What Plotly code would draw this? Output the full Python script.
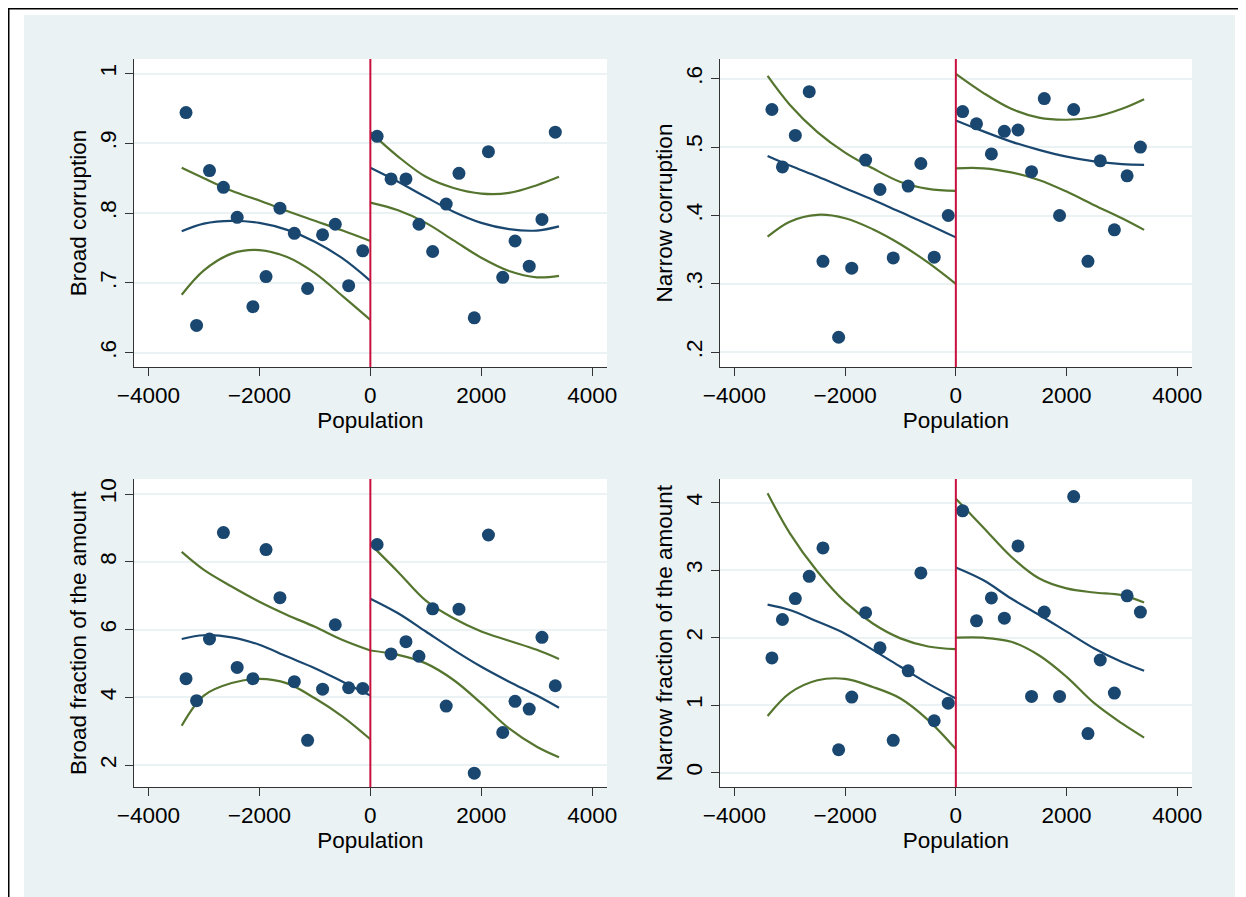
import plotly.graph_objects as go

# The page body adds an 8px margin, so the figure is drawn 8px smaller and shifted.
OFF = 8
W, H = 1246 - OFF, 897 - OFF

# ---------------- data ----------------
BIN_X_LEFT = [-3322, -3132, -2899, -2648, -2400, -2117, -1880, -1629, -1370, -1131, -861, -632, -391, -137]
BIN_X_RIGHT = [122, 373, 642, 876, 1123, 1367, 1597, 1873, 2128, 2386, 2608, 2863, 3093, 3333]
FIT_X_LEFT = [-3400, -3000, -2500, -2000, -1500, -1000, -500, 0]
FIT_X_RIGHT = [0, 500, 1000, 1500, 2000, 2500, 3000, 3400]
CUTOFF = 0

X_TICKS = [-4000, -2000, 0, 2000, 4000]
X_TITLE = "Population"

# Broad corruption
BC_LEFT = [0.944, 0.639, 0.861, 0.837, 0.794, 0.666, 0.709, 0.807, 0.771, 0.692, 0.769, 0.784, 0.696, 0.746]
BC_RIGHT = [0.910, 0.849, 0.849, 0.784, 0.745, 0.813, 0.857, 0.650, 0.888, 0.708, 0.760, 0.724, 0.791, 0.916]
BC_FIT_L = [0.774, 0.785, 0.789, 0.786, 0.776, 0.759, 0.735, 0.703]
BC_HI_L = [0.865, 0.850, 0.832, 0.818, 0.803, 0.789, 0.775, 0.760]
BC_LO_L = [0.683, 0.718, 0.742, 0.747, 0.737, 0.714, 0.681, 0.647]
BC_FIT_R = [0.865, 0.845, 0.823, 0.802, 0.786, 0.777, 0.775, 0.781]
BC_HI_R = [0.916, 0.881, 0.852, 0.836, 0.828, 0.829, 0.840, 0.852]
BC_LO_R = [0.815, 0.804, 0.786, 0.761, 0.736, 0.717, 0.708, 0.710]

# Narrow corruption
NC_LEFT = [0.555, 0.471, 0.517, 0.581, 0.333, 0.222, 0.323, 0.481, 0.438, 0.338, 0.443, 0.476, 0.339, 0.400]
NC_RIGHT = [0.552, 0.534, 0.490, 0.523, 0.525, 0.464, 0.571, 0.400, 0.555, 0.333, 0.480, 0.379, 0.458, 0.500]
NC_FIT_L = [0.487, 0.473, 0.457, 0.440, 0.423, 0.405, 0.387, 0.368]
NC_HI_L = [0.604, 0.562, 0.522, 0.492, 0.469, 0.449, 0.439, 0.436]
NC_LO_L = [0.369, 0.391, 0.401, 0.396, 0.380, 0.358, 0.331, 0.300]
NC_FIT_R = [0.539, 0.523, 0.508, 0.496, 0.486, 0.479, 0.475, 0.474]
NC_HI_R = [0.607, 0.579, 0.556, 0.543, 0.540, 0.544, 0.556, 0.570]
NC_LO_R = [0.469, 0.469, 0.463, 0.452, 0.435, 0.415, 0.396, 0.379]

# Broad fraction of the amount
BF_LEFT = [4.55, 3.90, 5.72, 8.86, 4.88, 4.55, 8.36, 6.94, 4.46, 2.73, 4.24, 6.14, 4.28, 4.26]
BF_RIGHT = [8.51, 5.28, 5.64, 5.21, 6.61, 3.74, 6.60, 1.76, 8.79, 2.96, 3.88, 3.65, 5.77, 4.34]
BF_FIT_L = [5.72, 5.83, 5.77, 5.55, 5.20, 4.86, 4.46, 4.05]
BF_HI_L = [8.29, 7.76, 7.27, 6.82, 6.43, 6.08, 5.69, 5.38]
BF_LO_L = [3.16, 4.05, 4.42, 4.54, 4.41, 3.97, 3.43, 2.76]
BF_FIT_R = [6.91, 6.48, 5.94, 5.40, 4.90, 4.46, 4.05, 3.69]
BF_HI_R = [8.52, 7.70, 6.85, 6.33, 5.94, 5.67, 5.40, 5.13]
BF_LO_R = [5.38, 5.25, 5.00, 4.51, 3.82, 3.08, 2.54, 2.23]

# Narrow fraction of the amount
NF_LEFT = [1.70, 2.27, 2.58, 2.91, 3.33, 0.34, 1.12, 2.37, 1.85, 0.48, 1.51, 2.96, 0.77, 1.03]
NF_RIGHT = [3.88, 2.25, 2.59, 2.29, 3.36, 1.13, 2.38, 1.13, 4.09, 0.58, 1.67, 1.18, 2.62, 2.38]
NF_FIT_L = [2.49, 2.41, 2.24, 2.06, 1.82, 1.57, 1.32, 1.10]
NF_HI_L = [4.14, 3.55, 2.98, 2.53, 2.21, 1.99, 1.87, 1.83]
NF_LO_L = [0.84, 1.18, 1.37, 1.39, 1.27, 1.10, 0.78, 0.35]
NF_FIT_R = [3.04, 2.85, 2.58, 2.34, 2.09, 1.84, 1.64, 1.51]
NF_HI_R = [4.06, 3.63, 3.20, 2.88, 2.73, 2.67, 2.63, 2.52]
NF_LO_R = [2.00, 2.00, 1.94, 1.74, 1.42, 1.03, 0.73, 0.52]

Y_TITLES = ["Broad corruption", "Narrow corruption",
            "Broad fraction of the amount", "Narrow fraction of the amount"]
Y_TICKVALS = [[0.6, 0.7, 0.8, 0.9, 1.0], [0.2, 0.3, 0.4, 0.5, 0.6],
              [2, 4, 6, 8, 10], [0, 1, 2, 3, 4]]
Y_TICKTEXT = [[".6", ".7", ".8", ".9", "1"], [".2", ".3", ".4", ".5", ".6"],
              ["2", "4", "6", "8", "10"], ["0", "1", "2", "3", "4"]]
Y_RANGES = [[0.5795, 1.0208], [0.1785, 0.6288], [1.342, 10.443], [-0.216, 4.351]]
X_RANGE = [-4265, 4265]

PANELS = [
    (BC_LEFT, BC_RIGHT, BC_FIT_L, BC_HI_L, BC_LO_L, BC_FIT_R, BC_HI_R, BC_LO_R),
    (NC_LEFT, NC_RIGHT, NC_FIT_L, NC_HI_L, NC_LO_L, NC_FIT_R, NC_HI_R, NC_LO_R),
    (BF_LEFT, BF_RIGHT, BF_FIT_L, BF_HI_L, BF_LO_L, BF_FIT_R, BF_HI_R, BF_LO_R),
    (NF_LEFT, NF_RIGHT, NF_FIT_L, NF_HI_L, NF_LO_L, NF_FIT_R, NF_HI_R, NF_LO_R),
]

# ---------------- styling ----------------
NAVY = "#1a476f"
GREEN = "#55752f"
RED = "#c8103e"
BG = "#eaf2f3"
AXIS = "#333333"
FONT = "Liberation Sans, Arial, Helvetica, sans-serif"
FS = 22.5

# plot areas in screen pixels (left, right, top, bottom)
PX = [(133.7, 607.0, 59.0, 367.0), (719.7, 1192.0, 59.0, 367.0),
      (133.7, 607.0, 479.0, 787.3), (719.7, 1192.0, 479.0, 787.3)]


def px_x(v):
    return (v - OFF) / W


def px_y(v):
    return 1 - (v - OFF) / H


fig = go.Figure()
shapes = []
# outer background
shapes.append(dict(type="rect", xref="paper", yref="paper",
                   x0=px_x(24), x1=px_x(1235), y0=0, y1=px_y(15),
                   fillcolor=BG, line=dict(width=0), layer="below"))
# black frame (left and top)
shapes.append(dict(type="rect", xref="paper", yref="paper",
                   x0=0, x1=px_x(9.5), y0=0, y1=1,
                   fillcolor="black", line=dict(width=0), layer="below"))
shapes.append(dict(type="rect", xref="paper", yref="paper",
                   x0=0, x1=1, y0=px_y(9.5), y1=1,
                   fillcolor="black", line=dict(width=0), layer="below"))

layout_axes = {}
for i, (data, px) in enumerate(zip(PANELS, PX)):
    n = i + 1
    xa = "x" if n == 1 else f"x{n}"
    ya = "y" if n == 1 else f"y{n}"
    left, right, fitl, hil, lol, fitr, hir, lor = data
    l, r, t, b = px
    xdom = [px_x(l), px_x(r)]
    ydom = [px_y(b), px_y(t)]

    shapes.append(dict(type="rect", xref="paper", yref="paper",
                       x0=xdom[0], x1=xdom[1], y0=ydom[0], y1=ydom[1],
                       fillcolor="white", line=dict(width=0), layer="below"))

    for xs, ys in ((FIT_X_LEFT, hil), (FIT_X_LEFT, lol), (FIT_X_RIGHT, hir), (FIT_X_RIGHT, lor)):
        fig.add_trace(go.Scatter(x=xs, y=ys, mode="lines", xaxis=xa, yaxis=ya,
                                 line=dict(color=GREEN, width=2.2, shape="spline", smoothing=1.0),
                                 hoverinfo="skip"))
    for xs, ys in ((FIT_X_LEFT, fitl), (FIT_X_RIGHT, fitr)):
        fig.add_trace(go.Scatter(x=xs, y=ys, mode="lines", xaxis=xa, yaxis=ya,
                                 line=dict(color=NAVY, width=2.2, shape="spline", smoothing=1.0),
                                 hoverinfo="skip"))
    fig.add_trace(go.Scatter(x=BIN_X_LEFT + BIN_X_RIGHT, y=left + right, mode="markers",
                             xaxis=xa, yaxis=ya,
                             marker=dict(color=NAVY, size=13, line=dict(width=0))))

    shapes.append(dict(type="line", xref=xa, yref=f"{ya} domain",
                       x0=CUTOFF, x1=CUTOFF, y0=0, y1=1,
                       line=dict(color=RED, width=2), layer="above"))

    xkey = "xaxis" if n == 1 else f"xaxis{n}"
    ykey = "yaxis" if n == 1 else f"yaxis{n}"
    layout_axes[xkey] = dict(
        domain=xdom, anchor=ya, range=X_RANGE, tickmode="array", tickvals=X_TICKS,
        ticks="outside", ticklen=8, tickwidth=1.3, tickcolor=AXIS,
        showline=True, linecolor=AXIS, linewidth=1.3, showgrid=False, zeroline=False,
        tickfont=dict(family=FONT, size=FS, color="black"),
        title=dict(text=X_TITLE, font=dict(family=FONT, size=FS, color="black"), standoff=0),
        automargin=False, fixedrange=True,
    )
    layout_axes[ykey] = dict(
        domain=ydom, anchor=xa, range=Y_RANGES[i], tickmode="array",
        tickvals=Y_TICKVALS[i], ticktext=Y_TICKTEXT[i], tickangle=-90,
        ticks="outside", ticklen=8, tickwidth=1.3, tickcolor=AXIS,
        showline=True, linecolor=AXIS, linewidth=1.3,
        showgrid=True, gridcolor=BG, gridwidth=1.5, zeroline=False,
        tickfont=dict(family=FONT, size=FS, color="black"),
        title=dict(text=Y_TITLES[i], font=dict(family=FONT, size=FS, color="black"), standoff=2),
        automargin=False, fixedrange=True,
    )

fig.update_layout(
    width=W, height=H, margin=dict(l=0, r=0, t=0, b=0, autoexpand=False),
    paper_bgcolor="white", plot_bgcolor="rgba(0,0,0,0)",
    showlegend=False, shapes=shapes, font=dict(family=FONT, size=FS, color="black"),
    **layout_axes,
)

fig.write_html("out.html")
